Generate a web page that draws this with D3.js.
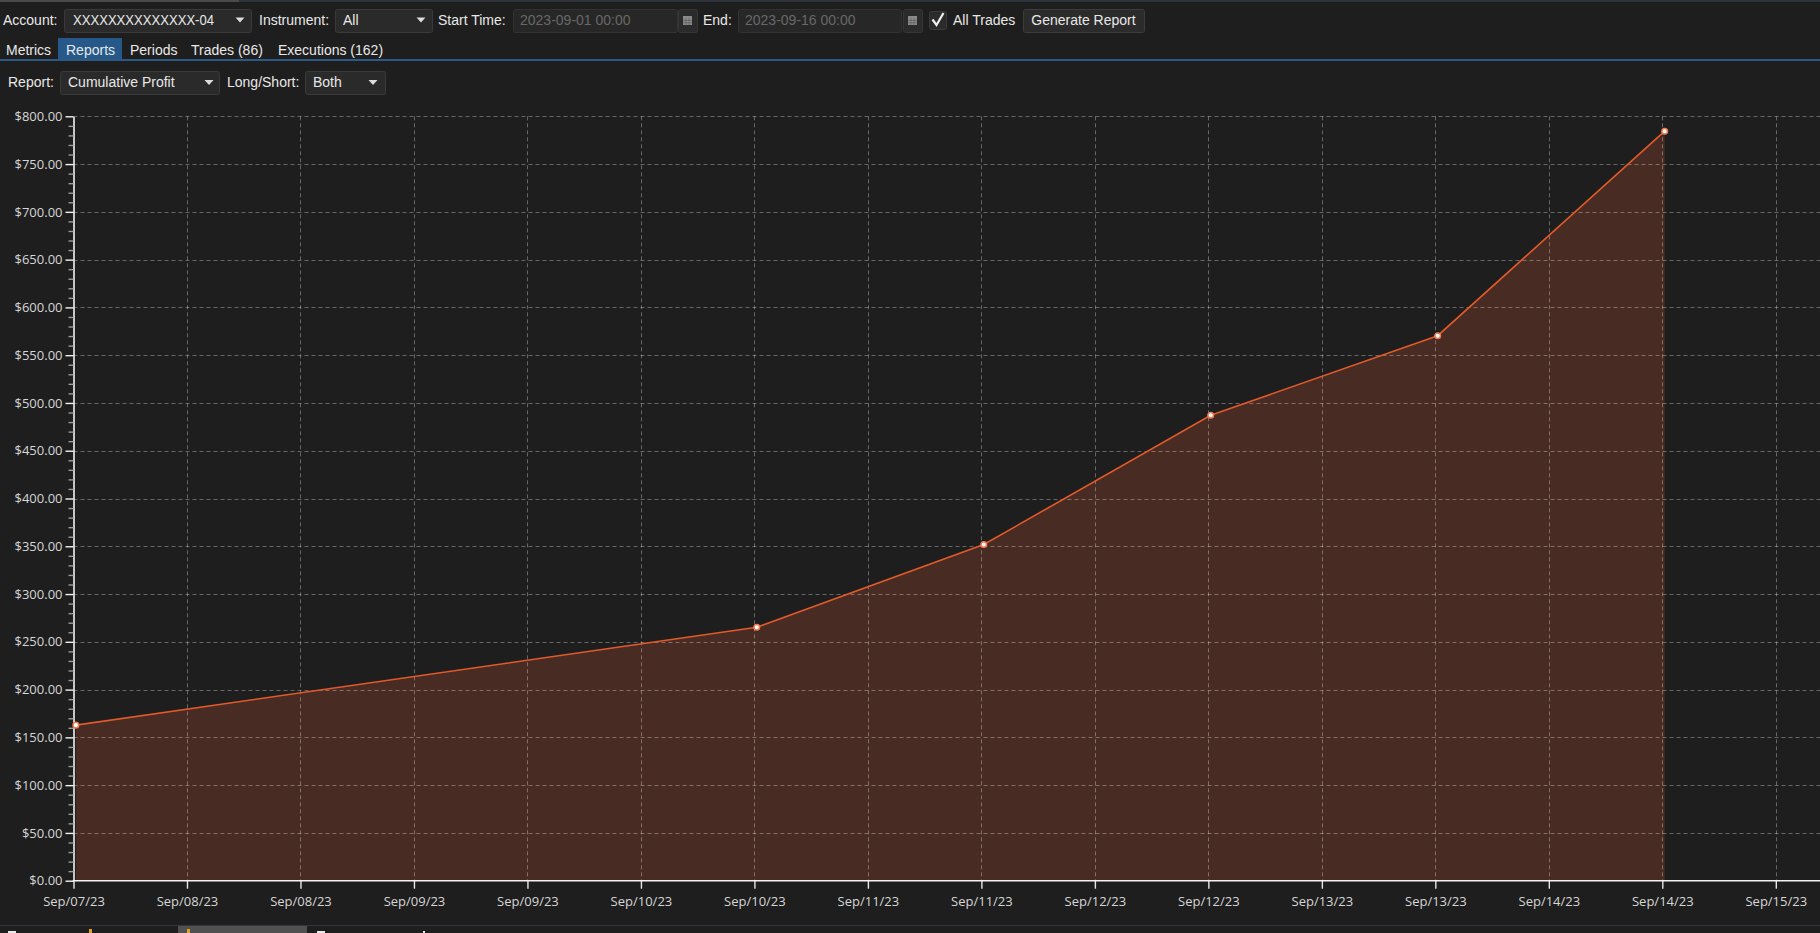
<!DOCTYPE html>
<html>
<head>
<meta charset="utf-8">
<script src="https://cdn.jsdelivr.net/npm/d3@7"></script>
<style>
    html, body { margin: 0; padding: 0; background: #1e1e1e; overflow: hidden; }
    svg { display: block; }
    .ui text { font-family: "Liberation Sans", Arial, sans-serif; font-size: 14px; }
    .axis text { font-family: "Open Sans", sans-serif; fill: #d6d6d6; }
</style>
</head>
<body>
<svg id="chart" width="1820" height="933"></svg>
<script>
// cumulative profit at the close of each trading day
const dates = ["2023-09-07 17:15", "2023-09-10 17:15", "2023-09-11 17:15",
               "2023-09-12 17:15", "2023-09-13 17:15", "2023-09-14 17:15"];
const profits = [162.8, 265.2, 351.8, 487.1, 570.4, 784.4];

const yTickValues = [0, 50, 100, 150, 200, 250, 300, 350, 400, 450, 500, 550, 600, 650, 700, 750, 800];
const xDomain = ["2023-09-07 17:00", "2023-09-15 05:00"];
const xTickFormat = "%b/%d/%y";

const width = 1820, height = 933;
const plot = { left: 73.5, right: 1775.8, top: 116.3, bottom: 880.7 };

const parse = d3.timeParse("%Y-%m-%d %H:%M");
const data = dates.map((d, i) => ({ date: parse(d), value: profits[i] }));

const svg = d3.select("#chart");

// ---------- toolbar (the app chrome around the chart) ----------
const ui = svg.append("g").attr("class", "ui");

ui.append("rect").attr("x", 0).attr("y", 0).attr("width", width).attr("height", 2).attr("fill", "#2d323d");
ui.append("rect").attr("x", 0).attr("y", 0).attr("width", 239).attr("height", 2).attr("fill", "#4a4a4a");

const label = (x, y, t, fill = "#e8e8e8") =>
    ui.append("text").attr("x", x).attr("y", y).attr("fill", fill).text(t);

const box = (x, y, w, h, fill = "#2a2a2a", stroke = "#3a3a3a") =>
    ui.append("rect").attr("x", x + 0.5).attr("y", y + 0.5).attr("width", w).attr("height", h)
        .attr("rx", 2).attr("fill", fill).attr("stroke", stroke);

const arrow = (cx, cy) =>
    ui.append("path").attr("d", `M${cx - 4.5},${cy - 2.5}L${cx + 4.5},${cy - 2.5}L${cx},${cy + 2.5}Z`).attr("fill", "#dcdcdc");

const calendar = (x, y) => {
    box(x, y, 19, 23, "#2b2b2b", "#363636");
    ui.append("rect").attr("x", x + 5).attr("y", y + 7).attr("width", 9).attr("height", 9).attr("fill", "#8a8a8a");
    for (let k = 1; k < 3; k++) {
        ui.append("line").attr("x1", x + 5 + k * 3).attr("x2", x + 5 + k * 3).attr("y1", y + 9).attr("y2", y + 16)
            .attr("stroke", "#5a5a5a").attr("stroke-width", 0.6);
        ui.append("line").attr("x1", x + 5).attr("x2", x + 14).attr("y1", y + 9 + k * 2.4).attr("y2", y + 9 + k * 2.4)
            .attr("stroke", "#5a5a5a").attr("stroke-width", 0.6);
    }
};

// row 1
label(3, 25, "Account:");
box(64, 9, 187, 23);
label(73, 25, "XXXXXXXXXXXXXX-04").attr("textLength", 141).attr("lengthAdjust", "spacingAndGlyphs");
arrow(240, 20);
label(259, 25, "Instrument:");
box(335, 9, 97, 23);
label(343, 25, "All");
arrow(421, 20);
label(438, 25, "Start Time:");
box(513, 9, 164, 23, "#272727", "#323232");
label(520, 25, "2023-09-01 00:00", "#686868");
calendar(678, 9);
label(703, 25, "End:");
box(738, 9, 163, 23, "#272727", "#323232");
label(745, 25, "2023-09-16 00:00", "#686868");
calendar(903, 9);
box(929, 11, 17, 18, "#2b2b2b", "#3a3a3a");
ui.append("path").attr("d", "M932.5,19.5L936.5,25L943.5,13").attr("fill", "none")
    .attr("stroke", "#f0f0f0").attr("stroke-width", 2.2);
label(953, 25, "All Trades");
box(1023, 9, 121, 23, "#2b2b2b", "#3c3c3c");
label(1083.5, 25, "Generate Report").attr("text-anchor", "middle");

// row 2: tabs
ui.append("rect").attr("x", 58).attr("y", 38).attr("width", 64).attr("height", 21).attr("fill", "#26598a");
label(6, 55, "Metrics");
label(66, 55, "Reports");
label(130, 55, "Periods");
label(191, 55, "Trades (86)");
label(278, 55, "Executions (162)");
ui.append("rect").attr("x", 0).attr("y", 59).attr("width", width).attr("height", 2).attr("fill", "#2c5a84");

// row 3
label(8, 87, "Report:");
box(60, 71, 159, 23);
label(68, 87, "Cumulative Profit");
arrow(209, 82.5);
label(227, 87, "Long/Short:");
box(305, 71, 80, 23);
label(313, 87, "Both");
arrow(373, 82.5);

// bottom strip (cut-off task bar)
ui.append("rect").attr("x", 0).attr("y", 925).attr("width", width).attr("height", 1).attr("fill", "#30363d");
ui.append("rect").attr("x", 178).attr("y", 926).attr("width", 129).attr("height", 7).attr("fill", "#505050");
[[8, "#e8e8e8"], [317, "#e8e8e8"]].forEach(([bx, c]) =>
    ui.append("rect").attr("x", bx).attr("y", 931).attr("width", 8).attr("height", 2).attr("fill", c));
[89, 187].forEach(bx =>
    ui.append("rect").attr("x", bx).attr("y", 929).attr("width", 3).attr("height", 4).attr("fill", "#e0a020"));
ui.append("rect").attr("x", 423).attr("y", 931).attr("width", 2).attr("height", 2).attr("fill", "#e8e8e8");

// ---------- chart ----------
const x = d3.scaleTime()
    .domain(xDomain.map(parse))
    .range([plot.left, plot.right]);

const y = d3.scaleLinear()
    .domain([0, 800])
    .range([plot.bottom, plot.top]);

const xTicks = d3.timeHour.range(x.domain()[0], new Date(+x.domain()[1] + 1), 12);
const yMinor = d3.range(10, 800, 10).filter(v => v % 50 !== 0);

const area = d3.area()
    .x(d => x(d.date))
    .y0(y(0))
    .y1(d => y(d.value));

svg.append("path")
    .datum(data)
    .attr("fill", "#482b23")
    .attr("d", area);

// dashed grid, drawn over the area
const grid = svg.append("g")
    .attr("stroke", "rgba(255,255,255,0.32)")
    .attr("stroke-dasharray", "4,3");

grid.selectAll(".h")
    .data(yTickValues.slice(1))
    .join("line")
    .attr("class", "h")
    .attr("x1", plot.left).attr("x2", width)
    .attr("y1", d => Math.round(y(d)) + 0.5).attr("y2", d => Math.round(y(d)) + 0.5);

grid.selectAll(".v")
    .data(xTicks.slice(1))
    .join("line")
    .attr("class", "v")
    .attr("x1", d => Math.round(x(d)) + 0.5).attr("x2", d => Math.round(x(d)) + 0.5)
    .attr("y1", y(800)).attr("y2", y(0));

const line = d3.line()
    .x(d => x(d.date))
    .y(d => y(d.value));

svg.append("path")
    .datum(data)
    .attr("fill", "none")
    .attr("stroke", "#e35a2a")
    .attr("stroke-width", 1.6)
    .attr("d", line);

// axes
const yAxis = d3.axisLeft(y)
    .tickValues(yTickValues)
    .tickFormat(d3.format("$.2f"))
    .tickSize(8)
    .tickSizeOuter(0)
    .tickPadding(3);

const gy = svg.append("g")
    .attr("class", "axis")
    .attr("transform", `translate(${plot.left},0)`)
    .call(yAxis);
gy.select(".domain").attr("stroke", "#f2f2f2").attr("stroke-width", 1.6);
gy.selectAll(".tick line").attr("stroke", "#f2f2f2").attr("stroke-width", 1.4);
gy.selectAll("text").style("font-size", "13px");

const gyMinor = svg.append("g")
    .attr("transform", `translate(${plot.left},0)`)
    .call(d3.axisLeft(y).tickValues(yMinor).tickSize(5).tickFormat(""));
gyMinor.select(".domain").remove();
gyMinor.selectAll(".tick line").attr("stroke", "#9a9a9a").attr("stroke-width", 1.4);

const xAxis = d3.axisBottom(x)
    .tickValues(xTicks)
    .tickFormat(d3.timeFormat(xTickFormat))
    .tickSize(8)
    .tickPadding(8);

const gx = svg.append("g")
    .attr("class", "axis")
    .attr("transform", `translate(0,${plot.bottom})`)
    .call(xAxis);
gx.select(".domain").remove();
gx.selectAll(".tick line").attr("stroke", "#e6e6e6").attr("stroke-width", 1.4);
gx.selectAll("text").style("font-size", "13px");
gx.append("line")
    .attr("x1", plot.left - 0.8).attr("x2", width)
    .attr("stroke", "#f2f2f2").attr("stroke-width", 1.6);

// data points
svg.append("g")
    .selectAll("circle")
    .data(data)
    .join("circle")
    .attr("cx", d => x(d.date))
    .attr("cy", d => y(d.value))
    .attr("r", 2.8)
    .attr("fill", "#ffffff")
    .attr("stroke", "#f07a50")
    .attr("stroke-width", 1.5);
</script>
</body>
</html>
